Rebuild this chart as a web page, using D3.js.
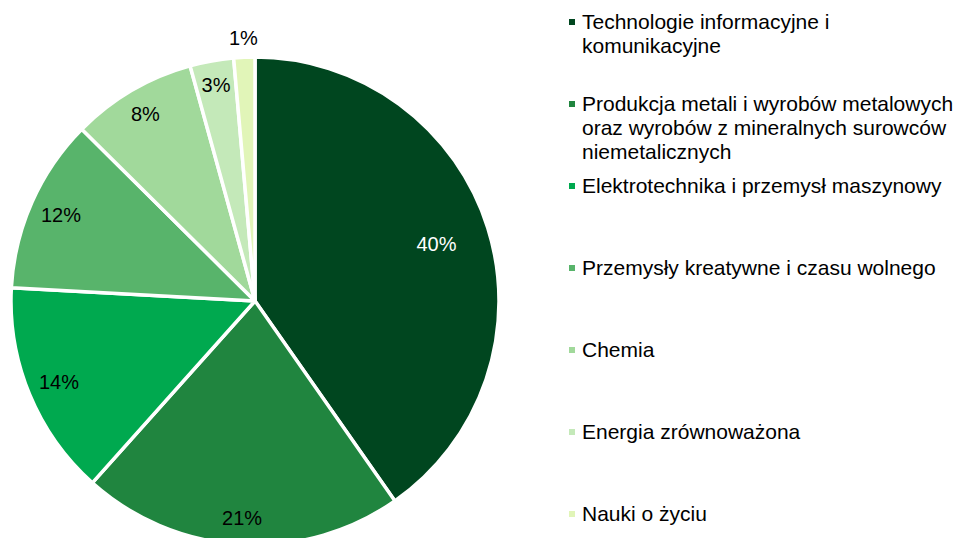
<!DOCTYPE html>
<html>
<head>
<meta charset="utf-8">
<script src="https://cdn.jsdelivr.net/npm/d3@7"></script>
<style>
  body { margin: 0; background: #fff; }
  svg { font-family: "Liberation Sans", Arial, sans-serif; }
</style>
</head>
<body>
<div id="chart"></div>
<script>
// categories and shares (%)
var categories = [
  "Technologie informacyjne i komunikacyjne",
  "Produkcja metali i wyrobów metalowych oraz wyrobów z mineralnych surowców niemetalicznych",
  "Elektrotechnika i przemysł maszynowy",
  "Przemysły kreatywne i czasu wolnego",
  "Chemia",
  "Energia zrównoważona",
  "Nauki o życiu"
];
var values = [40.4, 21.4, 14.3, 11.6, 8.3, 2.9, 1.4];
// legend text split into lines
var legendLines = [
  ["Technologie informacyjne i", "komunikacyjne"],
  ["Produkcja metali i wyrobów metalowych", "oraz wyrobów z mineralnych surowców", "niemetalicznych"],
  ["Elektrotechnika i przemysł maszynowy"],
  ["Przemysły kreatywne i czasu wolnego"],
  ["Chemia"],
  ["Energia zrównoważona"],
  ["Nauki o życiu"]
];
var colors = ["#00461f", "#20853f", "#00a94f", "#58b46b", "#a1d99b", "#c4e9b9", "#e1f5b8"];
// label distance from center as fraction of radius
var labelPos = [0.78, 0.89, 0.87, 0.87, 0.89, 0.9, 1.08];

var width = 960, height = 538,
  cx = 255, cy = 301, radius = 244;

var data = categories.map(function (c, i) {
  return { name: c, value: values[i], color: colors[i], lr: labelPos[i] };
});

var svg = d3.select("#chart").append("svg")
  .attr("width", width)
  .attr("height", height);

var pie = d3.pie().sort(null).value(function (d) { return d.value; });
var arc = d3.arc().innerRadius(0).outerRadius(radius);

var g = svg.append("g").attr("transform", "translate(" + cx + "," + cy + ")");

var arcs = pie(data);

g.selectAll("path.slice")
  .data(arcs)
  .enter()
  .append("path")
  .attr("class", "slice")
  .attr("d", arc)
  .attr("fill", function (d) { return d.data.color; })
  .attr("stroke", "#fff")
  .attr("stroke-width", 3.5)
  .attr("stroke-linejoin", "round");

g.selectAll("text.lbl")
  .data(arcs)
  .enter()
  .append("text")
  .attr("class", "lbl")
  .attr("x", function (d) {
    var a = (d.startAngle + d.endAngle) / 2;
    return Math.sin(a) * radius * d.data.lr;
  })
  .attr("y", function (d) {
    var a = (d.startAngle + d.endAngle) / 2;
    return -Math.cos(a) * radius * d.data.lr;
  })
  .attr("dy", "0.35em")
  .attr("text-anchor", "middle")
  .attr("font-size", 20)
  .attr("fill", function (d, i) { return i === 0 ? "#fff" : "#000"; })
  .text(function (d) { return Math.round(d.data.value) + "%"; });

// legend
var legend = svg.append("g").attr("transform", "translate(569,0)");
var item = legend.selectAll("g.item")
  .data(data)
  .enter()
  .append("g")
  .attr("class", "item")
  .attr("transform", function (d, i) { return "translate(0," + (29 + i * 82) + ")"; });

item.append("rect")
  .attr("x", 0)
  .attr("y", -10)
  .attr("width", 6)
  .attr("height", 6)
  .attr("fill", function (d) { return d.color; });

item.append("text")
  .attr("font-size", 21)
  .attr("fill", "#000")
  .selectAll("tspan")
  .data(function (d, i) { return legendLines[i]; })
  .enter()
  .append("tspan")
  .attr("x", 13)
  .attr("y", function (d, j) { return j * 24; })
  .text(function (d) { return d; });
</script>
</body>
</html>
